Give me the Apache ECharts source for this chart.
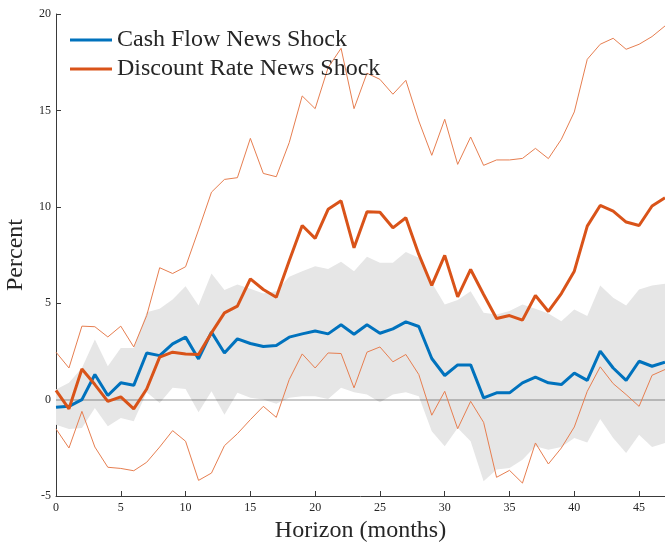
<!DOCTYPE html>
<html>
<head>
<meta charset="utf-8">
<script src="https://cdn.jsdelivr.net/npm/echarts@6/dist/echarts.min.js"></script>
<style>
  html, body { margin: 0; padding: 0; background: #ffffff; }
  #chart { width: 665px; height: 543px; }
</style>
</head>
<body>
<div id="chart"></div>
<script>
// Impulse responses by horizon (months), in percent
const horizon = [0, 1, 2, 3, 4, 5, 6, 7, 8, 9, 10, 11, 12, 13, 14, 15, 16, 17, 18, 19, 20, 21, 22, 23,
                 24, 25, 26, 27, 28, 29, 30, 31, 32, 33, 34, 35, 36, 37, 38, 39, 40, 41, 42, 43, 44, 45, 46, 47];
const xTickValues = [0, 5, 10, 15, 20, 25, 30, 35, 40, 45];
const yTickValues = [-5, 0, 5, 10, 15, 20];

const cashFlow = [-0.40, -0.35, 0.00, 1.30, 0.21, 0.87, 0.74, 2.42, 2.28, 2.89, 3.24, 2.11,
                  3.50, 2.42, 3.15, 2.91, 2.75, 2.80, 3.24, 3.41, 3.56, 3.41, 3.88, 3.39,
                  3.88, 3.44, 3.67, 4.03, 3.79, 2.13, 1.25, 1.80, 1.80, 0.09, 0.35, 0.35,
                  0.87, 1.16, 0.87, 0.78, 1.37, 1.00, 2.51, 1.64, 1.00, 1.99, 1.73, 1.94];
const cashFlowLow = [-1.30, -1.52, -1.47, -0.43, -1.38, -0.95, -1.12, 0.38, -0.17, 0.61, 0.55, -0.66,
                     0.43, -0.78, 0.35, 0.09, 0.00, -0.21, 0.09, 0.17, 0.17, 0.03, 0.61, 0.38,
                     0.26, -0.14, 0.26, 0.38, 0.17, -1.64, -2.42, -1.47, -2.16, -4.24, -3.63, -3.55,
                     -3.12, -2.42, -2.60, -2.46, -1.99, -2.22, -1.00, -1.99, -2.77, -1.82, -2.46, -2.25];
const cashFlowHigh = [0.52, 0.87, 1.64, 3.12, 1.73, 2.68, 2.68, 4.53, 4.71, 5.19, 5.88, 4.88,
                      6.54, 5.68, 5.97, 5.75, 5.50, 5.62, 6.37, 6.66, 6.92, 6.78, 7.15, 6.66,
                      7.41, 7.10, 7.10, 7.65, 7.36, 6.06, 4.93, 5.16, 5.62, 4.50, 4.41, 4.59,
                      4.93, 4.71, 4.47, 4.07, 4.67, 4.33, 5.92, 5.28, 4.88, 5.71, 5.92, 6.01];

const discountRate = [0.48, -0.48, 1.59, 0.78, -0.09, 0.14, -0.48, 0.55, 2.20, 2.46, 2.37, 2.34,
                      3.46, 4.50, 4.85, 6.26, 5.71, 5.31, 7.20, 9.03, 8.36, 9.87, 10.31, 7.87,
                      9.74, 9.72, 8.91, 9.43, 7.53, 5.92, 7.48, 5.33, 6.75, 5.45, 4.21, 4.36,
                      4.12, 5.40, 4.57, 5.50, 6.66, 9.00, 10.07, 9.78, 9.21, 9.03, 10.04, 10.47];
const discountRateLow = [-1.52, -2.51, -0.61, -2.46, -3.51, -3.57, -3.69, -3.25, -2.46, -1.61, -2.16, -4.19,
                         -3.81, -2.39, -1.77, -1.04, -0.35, -0.92, 1.04, 2.37, 1.64, 2.42, 2.39, 0.61,
                         2.46, 2.73, 1.96, 2.34, 1.30, -0.81, 0.43, -1.51, -0.09, -1.18, -4.03, -3.67,
                         -4.33, -2.25, -3.34, -2.51, -1.42, 0.43, 1.70, 0.83, 0.26, -0.35, 1.26, 1.56];
const discountRateHigh = [2.46, 1.64, 3.81, 3.78, 3.25, 3.81, 2.73, 4.36, 6.84, 6.54, 6.89, 8.80,
                          10.76, 11.42, 11.51, 13.55, 11.73, 11.56, 13.33, 15.75, 15.09, 17.22, 18.22, 15.09,
                          16.93, 16.61, 15.84, 16.56, 14.45, 12.67, 14.54, 12.20, 13.62, 12.15, 12.43, 12.43,
                          12.51, 13.03, 12.50, 13.50, 14.92, 17.65, 18.43, 18.74, 18.17, 18.43, 18.83, 19.38];

const BLUE = '#0072BD';
const RED = '#D95319';
const RED_THIN = '#E67E50';
const BAND = '#E6E6E6';
const AXIS = '#3a3a3a';
const TEXT = '#262626';
const FONT = '"Liberation Serif", "DejaVu Serif", serif';

const pairs = (ys) => horizon.map((x, i) => [x, ys[i]]);

// Cash-flow confidence band drawn as one polygon: upper edge left-to-right, lower edge back
function renderBand(params, api) {
  const pts = [];
  for (let i = 0; i < horizon.length; i++) pts.push(api.coord([horizon[i], cashFlowHigh[i]]));
  for (let i = horizon.length - 1; i >= 0; i--) pts.push(api.coord([horizon[i], cashFlowLow[i]]));
  return {
    type: 'polygon',
    shape: { points: pts },
    style: { fill: BAND, stroke: null }
  };
}

const chart = echarts.init(document.getElementById('chart'), null, { renderer: 'canvas' });

chart.setOption({
  animation: false,
  backgroundColor: '#ffffff',
  textStyle: { fontFamily: FONT, color: TEXT },
  grid: { left: 56, right: 0, top: 14, bottom: 47, containLabel: false, outerBoundsMode: 'none' },
  legend: {
    data: ['Cash Flow News Shock', 'Discount Rate News Shock'],
    orient: 'vertical',
    left: 70,
    top: 28,
    padding: 0,
    icon: 'rect',
    itemWidth: 42,
    itemHeight: 3,
    itemGap: 5,
    textStyle: { fontFamily: FONT, fontSize: 24, color: TEXT, lineHeight: 24 },
    selectedMode: false
  },
  xAxis: {
    type: 'value',
    min: 0,
    max: 47,
    interval: 5,
    name: 'Horizon (months)',
    nameLocation: 'middle',
    nameGap: 23,
    nameTextStyle: { fontFamily: FONT, fontSize: 24, color: TEXT, verticalAlign: 'top' },
    axisLine: { show: true, onZero: false, lineStyle: { color: AXIS, width: 1 } },
    axisTick: { show: true, inside: true, length: 5, customValues: xTickValues, lineStyle: { color: AXIS } },
    axisLabel: { customValues: xTickValues, fontFamily: FONT, fontSize: 12, color: TEXT, margin: 6 },
    splitLine: { show: false }
  },
  yAxis: {
    type: 'value',
    min: -5,
    max: 20,
    interval: 5,
    name: 'Percent',
    nameLocation: 'middle',
    nameGap: 26,
    nameTextStyle: { fontFamily: FONT, fontSize: 24, color: TEXT },
    axisLine: { show: true, onZero: false, lineStyle: { color: AXIS, width: 1 } },
    axisTick: { show: true, inside: true, length: 5, customValues: yTickValues, lineStyle: { color: AXIS } },
    axisLabel: { customValues: yTickValues, fontFamily: FONT, fontSize: 12, color: TEXT, margin: 5 },
    splitLine: { show: false }
  },
  series: [
    {
      name: 'cfBand',
      type: 'custom',
      renderItem: renderBand,
      data: [[0, 0]],
      clip: true,
      silent: true,
      z: 1
    },
    {
      name: 'drHigh',
      type: 'line',
      data: pairs(discountRateHigh),
      symbol: 'none',
      lineStyle: { color: RED_THIN, width: 1 },
      silent: true,
      z: 3
    },
    {
      name: 'drLow',
      type: 'line',
      data: pairs(discountRateLow),
      symbol: 'none',
      lineStyle: { color: RED_THIN, width: 1 },
      silent: true,
      z: 3
    },
    {
      name: 'Cash Flow News Shock',
      type: 'line',
      data: pairs(cashFlow),
      symbol: 'none',
      color: BLUE,
      lineStyle: { color: BLUE, width: 3 },
      z: 4,
      markLine: {
        silent: true,
        symbol: ['none', 'none'],
        label: { show: false },
        lineStyle: { color: 'rgba(0,0,0,0.28)', width: 1.5, type: 'solid' },
        data: [{ yAxis: 0 }],
        z: 2
      }
    },
    {
      name: 'Discount Rate News Shock',
      type: 'line',
      data: pairs(discountRate),
      symbol: 'none',
      color: RED,
      lineStyle: { color: RED, width: 3 },
      z: 5
    }
  ]
});
</script>
</body>
</html>
